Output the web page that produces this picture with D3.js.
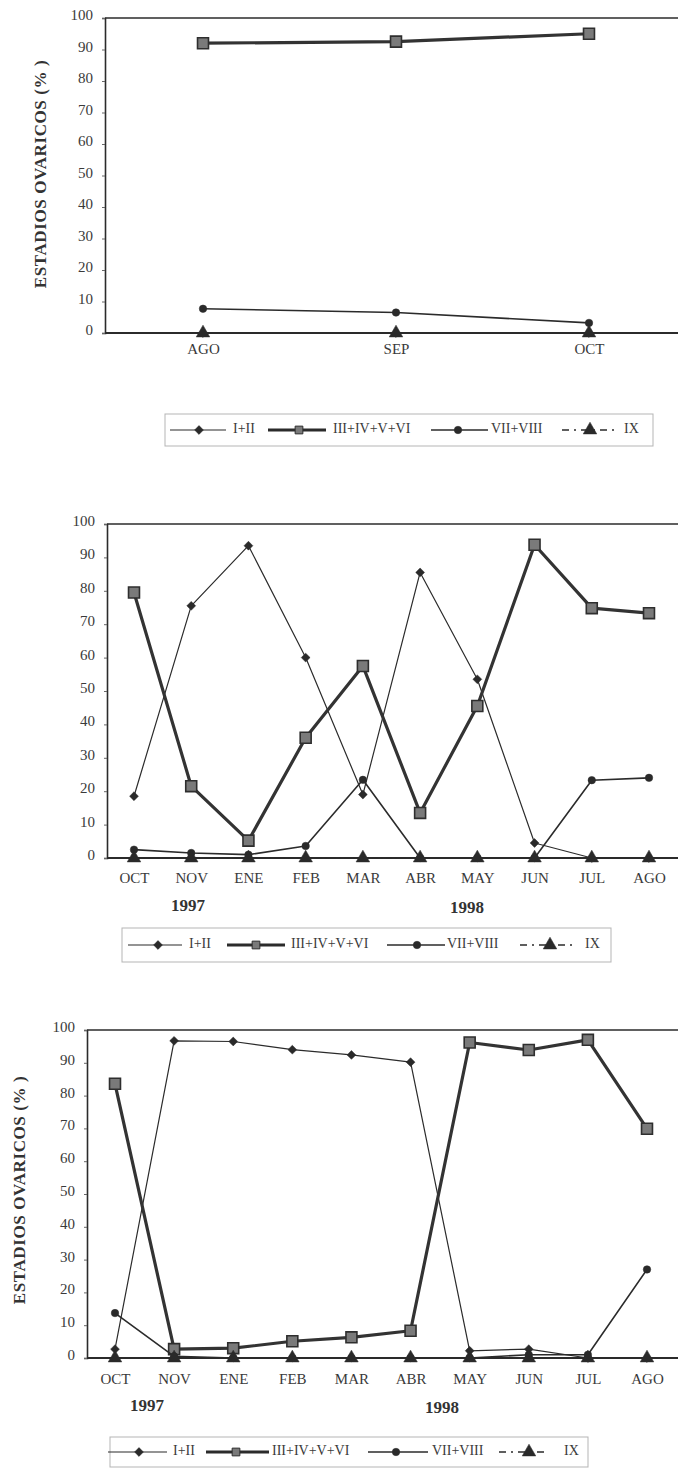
<!DOCTYPE html>
<html><head><meta charset="utf-8">
<script src="https://cdn.jsdelivr.net/npm/d3@7"></script>
<style>
html,body{margin:0;padding:0;background:#fff;}
svg{display:block;font-family:"Liberation Serif","DejaVu Serif",serif;}
</style></head>
<body><svg id="c" width="678" height="1470"></svg>
<script>
// ---------- DATA ----------
const seriesNames = ["I+II", "III+IV+V+VI", "VII+VIII", "IX"];
const yTicks = [0,10,20,30,40,50,60,70,80,90,100];

const months1 = ["AGO","SEP","OCT"];
const p1_I_II   = [0, 0, 0];
const p1_III_VI = [92, 92.5, 95];
const p1_VII    = [7.7, 6.5, 3.2];
const p1_IX     = [0, 0, 0];

const months2 = ["OCT","NOV","ENE","FEB","MAR","ABR","MAY","JUN","JUL","AGO"];
const p2_I_II   = [18.5, 75.5, 93.5, 60, 19, 85.5, 53.5, 4.5, 0, 0];
const p2_III_VI = [79.5, 21.5, 5.2, 36, 57.5, 13.5, 45.5, 93.8, 74.8, 73.3];
const p2_VII    = [2.5, 1.5, 1, 3.6, 23.4, 0, 0, 0, 23.3, 24];
const p2_IX     = [0, 0, 0, 0, 0, 0, 0, 0, 0, 0];

const months3 = ["OCT","NOV","ENE","FEB","MAR","ABR","MAY","JUN","JUL","AGO"];
const p3_I_II   = [2.7, 96.7, 96.5, 94, 92.4, 90.2, 2.2, 2.7, 0, 0];
const p3_III_VI = [83.6, 2.7, 3, 5.1, 6.3, 8.3, 96.2, 93.9, 97, 69.9];
const p3_VII    = [13.7, 0.5, 0, 0, 0, 0, 0, 1, 1, 27];
const p3_IX     = [0, 0, 0, 0, 0, 0, 0, 0, 0, 0];

const years = ["1997", "1998"];
const yTitle = "ESTADIOS OVARICOS (% )";

// ---------- LAYOUT ----------
const panels = [
  { months: months1, data: [p1_I_II, p1_III_VI, p1_VII, p1_IX],
    axisX: 105, xRange: [203, 589], yRange: [333, 18], monthY: 349,
    title: {x: 42, y: 174}, years: null,
    legend: {box: [165, 414, 653, 446], items: [[170,226,199,233],[268,326,299,333],[431,488,458,491],[562,618,590,624]]} },
  { months: months2, data: [p2_I_II, p2_III_VI, p2_VII, p2_IX],
    axisX: 107, xRange: [134, 649], yRange: [858, 524], monthY: 878,
    title: null, years: [[188, 907],[467, 909]],
    legend: {box: [122, 928, 611, 962], items: [[128,182,158,189],[227,285,256,291],[387,445,417,447],[520,574,550,585]]} },
  { months: months3, data: [p3_I_II, p3_III_VI, p3_VII, p3_IX],
    axisX: 87, xRange: [115, 647], yRange: [1358, 1030], monthY: 1379,
    title: {x: 21, y: 1190}, years: [[147, 1407],[442, 1409]],
    legend: {box: [110, 1437, 588, 1467], items: [[108,167,139,173],[206,269,236,272],[368,428,396,432],[499,549,529,564]]} }
];

const styles = [
  {width: 1.2, dash: null, sym: d3.symbolDiamond2, size: 50, fill: "#2a2a2a", stroke: "#2a2a2a", sw: 0.5},
  {width: 3.2, dash: null, sym: d3.symbolSquare, size: 120, fill: "#7a7a7a", stroke: "#2e2e2e", sw: 1.6},
  {width: 1.6, dash: null, sym: d3.symbolCircle, size: 44, fill: "#2a2a2a", stroke: "#2a2a2a", sw: 0.5},
  {width: 1.4, dash: "6,3,2,3", sym: d3.symbolTriangle, size: 80, fill: "#2a2a2a", stroke: "#2a2a2a", sw: 0.5}
];

const svg = d3.select("#c");
const ink = "#2b2b2b";
const textCol = "#3a3a3a";

panels.forEach(p => {
  const g = svg.append("g");
  const x = d3.scalePoint().domain(p.months).range(p.xRange);
  const y = d3.scaleLinear().domain([0, 100]).range(p.yRange);

  const right = 700;
  g.append("line").attr("x1", p.axisX).attr("x2", right).attr("y1", y(100)).attr("y2", y(100))
    .attr("stroke", ink).attr("stroke-width", 1.6);
  g.append("line").attr("x1", p.axisX).attr("x2", right).attr("y1", y(0)).attr("y2", y(0))
    .attr("stroke", ink).attr("stroke-width", 2);

  const yAxis = d3.axisLeft(y).tickValues(yTicks).tickSize(3).tickPadding(9).tickFormat(d3.format("d"));
  const ya = g.append("g").attr("transform", `translate(${p.axisX},0)`).call(yAxis)
    .attr("font-family", "Liberation Serif, serif").attr("font-size", 15);
  ya.select(".domain").attr("stroke", ink).attr("stroke-width", 1.6);
  ya.selectAll(".tick line").attr("stroke", "#666");
  ya.selectAll(".tick text").attr("fill", textCol).attr("dy", "0.1em");

  const xAxis = d3.axisBottom(x).tickSize(0).tickPadding(0);
  const xa = g.append("g").attr("transform", `translate(0,${p.monthY})`).call(xAxis)
    .attr("font-family", "Liberation Serif, serif").attr("font-size", 15);
  xa.select(".domain").remove();
  xa.selectAll(".tick text").attr("fill", textCol).attr("dy", "0.35em").attr("y", 0);

  p.data.forEach((vals, si) => {
    const st = styles[si];
    const pts = vals.map((v, i) => [x(p.months[i]), y(v)]);
    g.append("path").attr("d", d3.line()(pts)).attr("fill", "none")
      .attr("stroke", si === 1 ? "#333" : ink).attr("stroke-width", st.width)
      .attr("stroke-dasharray", st.dash).attr("stroke-linejoin", "round");
    g.selectAll(null).data(pts).join("path")
      .attr("transform", d => `translate(${d[0]},${d[1]})`)
      .attr("d", d3.symbol().type(st.sym).size(st.size))
      .attr("fill", st.fill).attr("stroke", st.stroke).attr("stroke-width", st.sw);
  });

  if (p.title) {
    g.append("text").attr("transform", `translate(${p.title.x},${p.title.y}) rotate(-90)`)
      .attr("text-anchor", "middle").attr("dominant-baseline", "middle")
      .attr("font-size", 17).attr("font-weight", "bold").attr("fill", "#333")
      .attr("letter-spacing", "0.6").text(yTitle);
  }
  if (p.years) {
    p.years.forEach((pos, i) => {
      g.append("text").attr("x", pos[0]).attr("y", pos[1]).attr("text-anchor", "middle")
        .attr("dominant-baseline", "middle").attr("font-size", 17).attr("font-weight", "bold")
        .attr("fill", "#333").text(years[i]);
    });
  }
  const L = p.legend;
  const cy = (L.box[1] + L.box[3]) / 2;
  g.append("rect").attr("x", L.box[0]).attr("y", L.box[1]).attr("width", L.box[2] - L.box[0])
    .attr("height", L.box[3] - L.box[1]).attr("fill", "none").attr("stroke", "#b5b5b5").attr("stroke-width", 1);
  L.items.forEach((it, si) => {
    const st = styles[si];
    g.append("line").attr("x1", it[0]).attr("x2", it[1]).attr("y1", cy).attr("y2", cy)
      .attr("stroke", ink).attr("stroke-width", st.width)
      .attr("stroke-dasharray", si === 3 ? "7,5,2,5" : null);
    g.append("path").attr("transform", `translate(${it[2]},${cy})`)
      .attr("d", d3.symbol().type(st.sym).size(si === 1 ? 60 : st.size))
      .attr("fill", st.fill).attr("stroke", st.stroke).attr("stroke-width", si === 1 ? 1 : st.sw);
    g.append("text").attr("x", it[3]).attr("y", cy).attr("dominant-baseline", "middle")
      .attr("font-size", 14).attr("fill", textCol).text(seriesNames[si]);
  });
});
</script>
</body></html>
